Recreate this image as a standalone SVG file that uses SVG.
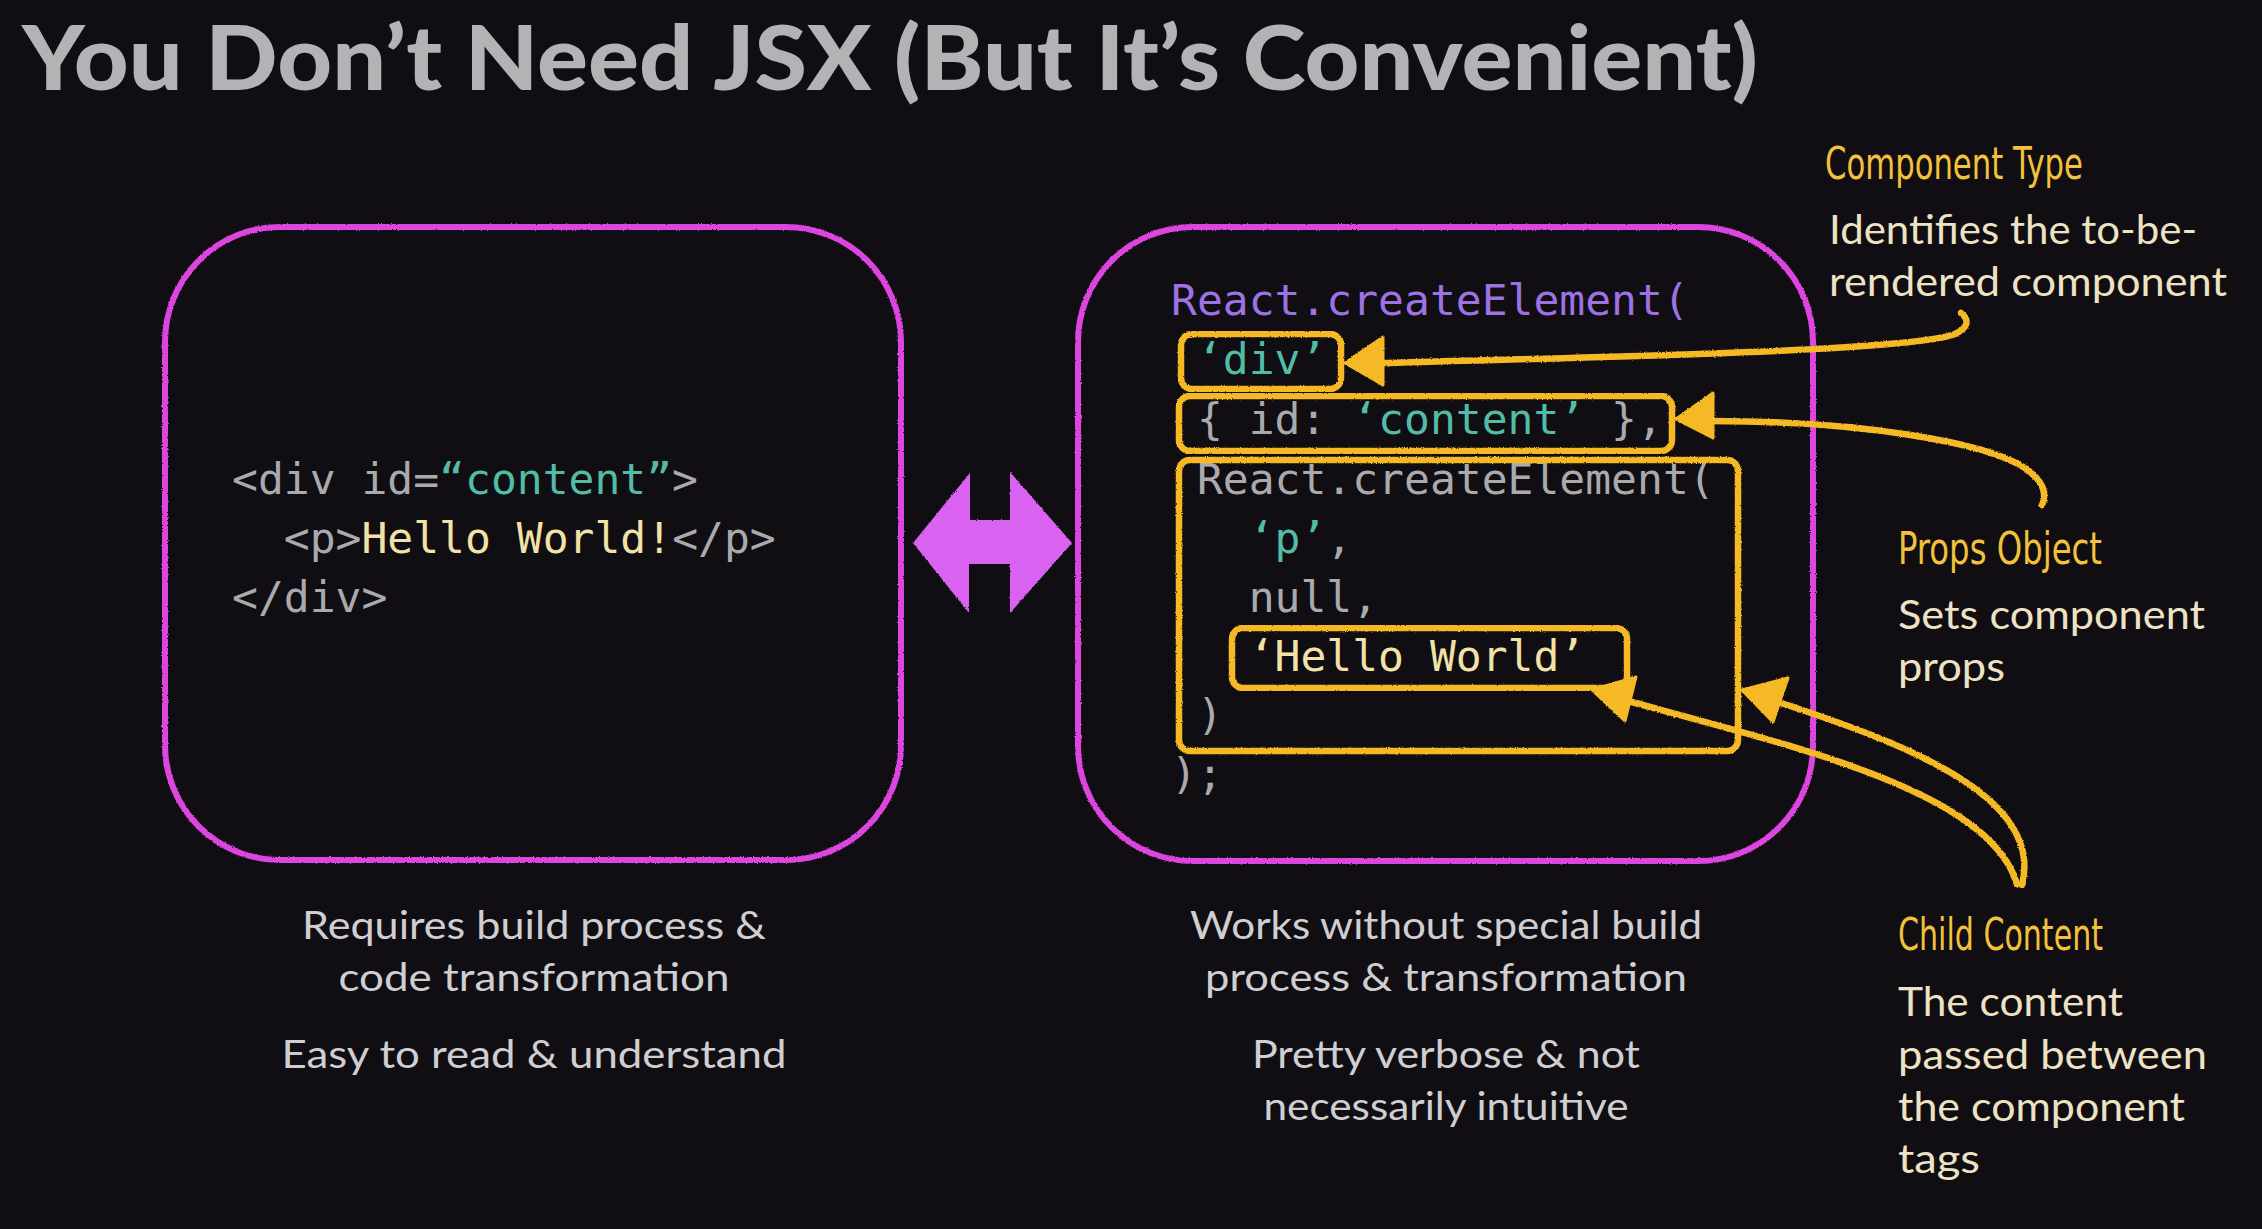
<svg xmlns="http://www.w3.org/2000/svg" width="2262" height="1229" viewBox="0 0 2262 1229">
  <defs>
    <style>
      .title { font-family: Lato, "Open Sans", "Liberation Sans", sans-serif; font-weight: 900; font-size: 90px; fill: #b3b3b6; }
      .code { font-family: "DejaVu Sans Mono", "Liberation Mono", monospace; font-size: 43px; fill: #aaaaad; white-space: pre; }
      .str { fill: #52bda7; }
      .txt { fill: #f2e2a6; }
      .fn { fill: #9d72e2; }
      .frame { fill: none; stroke: #dc44de; stroke-width: 6; }
      .hl { fill: none; stroke: #f5b928; stroke-width: 6.5; }
      .lead { fill: none; stroke: #f5b928; stroke-width: 6.5; stroke-linecap: round; }
      .head { fill: #f5b928; stroke: #f5b928; stroke-width: 3; stroke-linejoin: round; }
      .cap { font-family: Lato, "Open Sans", "Liberation Sans", sans-serif; font-size: 38px; fill: #cfcfd2; text-anchor: middle; }
      .note-h { font-family: "DejaVu Sans Condensed", "Liberation Sans Narrow", "Liberation Sans", sans-serif; font-size: 44px; fill: #f3c13c; }
      .note { font-family: Lato, "Open Sans", "Liberation Sans", sans-serif; font-size: 40px; fill: #eee2c4; }
    </style>
    <filter id="rough" x="-5%" y="-5%" width="110%" height="110%">
      <feTurbulence type="fractalNoise" baseFrequency="0.8" numOctaves="2" seed="3" result="n"/>
      <feDisplacementMap in="SourceGraphic" in2="n" scale="2.5" xChannelSelector="R" yChannelSelector="G"/>
    </filter>
  </defs>

  <rect width="2262" height="1229" fill="#100e13"/>

  <text class="title" x="22" y="90" textLength="1736" lengthAdjust="spacingAndGlyphs">You Don’t Need JSX (But It’s Convenient)</text>

  <!-- JSX panel -->
  <g id="jsx-panel">
    <rect class="frame" x="165" y="227" width="736" height="633" rx="115" filter="url(#rough)"/>
    <text class="code" x="232" y="494">&lt;div id=<tspan class="str">“content”</tspan>&gt;</text>
    <text class="code" x="232" y="553">  &lt;p&gt;<tspan class="txt">Hello World!</tspan>&lt;/p&gt;</text>
    <text class="code" x="232" y="612">&lt;/div&gt;</text>
  </g>

  <!-- two-way arrow between the panels -->
  <g id="equivalence">
    <polygon points="913,543 970,473 970,520 1010,520 1010,472 1072,543 1010,613 1010,564 969,564 969,613" fill="#d964f0" filter="url(#rough)"/>
  </g>

  <!-- createElement panel -->
  <g id="create-element-panel">
    <rect class="frame" x="1078" y="227" width="735" height="634" rx="115" filter="url(#rough)"/>
    <text class="code fn" x="1171" y="315">React.createElement(</text>
    <text class="code" x="1171" y="374"> <tspan class="str">‘div’</tspan></text>
    <text class="code" x="1171" y="434"> { id: <tspan class="str">‘content’</tspan> },</text>
    <text class="code" x="1171" y="494"> React.createElement(</text>
    <text class="code" x="1171" y="553">   <tspan class="str">‘p’</tspan>,</text>
    <text class="code" x="1171" y="612">   null,</text>
    <text class="code" x="1171" y="671">   <tspan class="txt">‘Hello World’</tspan></text>
    <text class="code" x="1171" y="730"> )</text>
    <text class="code" x="1171" y="789">);</text>
  </g>

  <!-- highlighted arguments -->
  <g id="arg-type">
    <rect class="hl" x="1181" y="334" width="160" height="55" rx="11" filter="url(#rough)"/>
  </g>
  <g id="arg-props">
    <rect class="hl" x="1179" y="396" width="493" height="55" rx="11" filter="url(#rough)"/>
  </g>
  <g id="arg-children">
    <rect class="hl" x="1179" y="460" width="559" height="291" rx="11" filter="url(#rough)"/>
  </g>
  <g id="arg-text">
    <rect class="hl" x="1232" y="628" width="395" height="60" rx="11" filter="url(#rough)"/>
  </g>

  <!-- annotations -->
  <g id="note-type">
    <text class="note-h" x="1825" y="179" textLength="258" lengthAdjust="spacingAndGlyphs">Component Type</text>
    <text class="note" x="1829" y="244" textLength="368" lengthAdjust="spacingAndGlyphs">Identifies the to-be-</text>
    <text class="note" x="1829" y="296" textLength="398" lengthAdjust="spacingAndGlyphs">rendered component</text>
  </g>
  <g id="note-props">
    <text class="note-h" x="1898" y="564" textLength="204" lengthAdjust="spacingAndGlyphs">Props Object</text>
    <text class="note" x="1898" y="629" textLength="307" lengthAdjust="spacingAndGlyphs">Sets component</text>
    <text class="note" x="1898" y="681" textLength="107" lengthAdjust="spacingAndGlyphs">props</text>
  </g>
  <g id="note-children">
    <text class="note-h" x="1898" y="950" textLength="205" lengthAdjust="spacingAndGlyphs">Child Content</text>
    <text class="note" x="1898" y="1016" textLength="225" lengthAdjust="spacingAndGlyphs">The content</text>
    <text class="note" x="1898" y="1069" textLength="309" lengthAdjust="spacingAndGlyphs">passed between</text>
    <text class="note" x="1898" y="1121" textLength="287" lengthAdjust="spacingAndGlyphs">the component</text>
    <text class="note" x="1898" y="1173" textLength="82" lengthAdjust="spacingAndGlyphs">tags</text>
  </g>

  <!-- leader lines from the notes to the arguments -->
  <g id="connectors" filter="url(#rough)">
    <path class="lead" d="M1380 363 C1650 356 1915 350 1955 334 C1968 328 1970 320 1961 313"/>
    <polygon class="head" points="1345,363 1383,337 1383,385"/>
    <path class="lead" d="M1710 421 C1860 421 1985 442 2025 468 C2042 480 2048 492 2042 505"/>
    <polygon class="head" points="1676,419 1713,393 1713,438"/>
    <path class="lead" d="M1628 701 C1800 748 1990 792 2017 884"/>
    <polygon class="head" points="1592,690 1636,677 1625,721"/>
    <path class="lead" d="M1778 702 C1900 742 2045 795 2022 885"/>
    <polygon class="head" points="1742,690 1788,678 1773,722"/>
  </g>

  <!-- captions -->
  <g id="caption-jsx">
    <text class="cap" x="534" y="939" textLength="464" lengthAdjust="spacingAndGlyphs">Requires build process &amp;</text>
    <text class="cap" x="534" y="991" textLength="391" lengthAdjust="spacingAndGlyphs">code transformation</text>
    <text class="cap" x="534" y="1068" textLength="505" lengthAdjust="spacingAndGlyphs">Easy to read &amp; understand</text>
  </g>
  <g id="caption-create-element">
    <text class="cap" x="1446" y="939" textLength="512" lengthAdjust="spacingAndGlyphs">Works without special build</text>
    <text class="cap" x="1446" y="991" textLength="482" lengthAdjust="spacingAndGlyphs">process &amp; transformation</text>
    <text class="cap" x="1446" y="1068" textLength="388" lengthAdjust="spacingAndGlyphs">Pretty verbose &amp; not</text>
    <text class="cap" x="1446" y="1120" textLength="365" lengthAdjust="spacingAndGlyphs">necessarily intuitive</text>
  </g>
</svg>
